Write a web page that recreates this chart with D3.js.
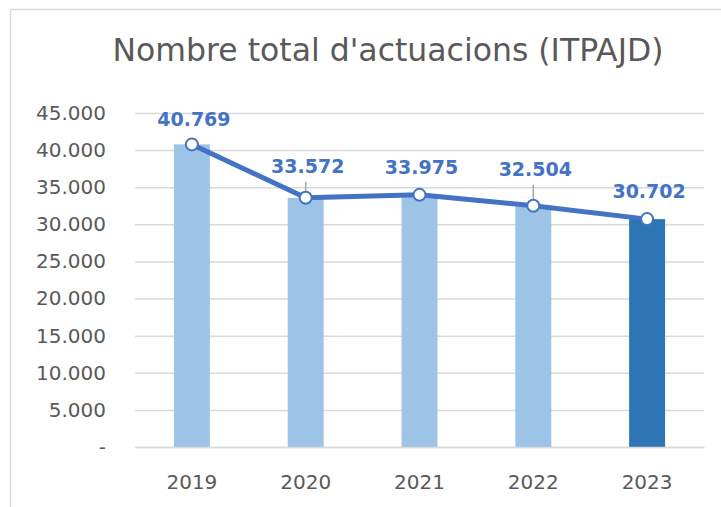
<!DOCTYPE html>
<html>
<head>
<meta charset="utf-8">
<script src="https://cdn.jsdelivr.net/npm/d3@7"></script>
<style>
  html, body { margin: 0; padding: 0; background: #fff; }
  svg { display: block; }
</style>
</head>
<body>
<div id="chart"></div>
<script>
// data
var years = ['2019', '2020', '2021', '2022', '2023'];
var actuacions = [40769, 33572, 33975, 32504, 30702];
var yTicks = [0, 5000, 10000, 15000, 20000, 25000, 30000, 35000, 40000, 45000];
var chartTitle = "Nombre total d'actuacions (ITPAJD)";

(function() {
  var width = 721, height = 507;
  var left = 135, right = 704, top = 113, bottom = 447;
  var blue = '#4472C4', grey = '#595959', gridColor = '#D9D9D9';
  var font = 'DejaVu Sans, sans-serif';
  // how far each label sits above its point (the original was nudged by hand)
  var labelLift = [18, 25, 21, 30, 21];

  var fmt = function(v) {
    return v === 0 ? '-' : d3.format(',')(v).replace(/,/g, '.');
  };

  var points = actuacions.map(function(v, i) {
    return { year: years[i], value: v, lift: labelLift[i], last: i === years.length - 1 };
  });

  var x = d3.scaleBand().domain(years).range([left, right]).paddingInner(0.684).paddingOuter(0.342);
  var y = d3.scaleLinear().domain([0, 45000]).range([bottom, top]);
  var cx = function(d) { return x(d.year) + x.bandwidth() / 2; };
  var cy = function(d) { return y(d.value); };

  var svg = d3.select('#chart').append('svg').attr('width', width).attr('height', height);

  // chart frame
  svg.append('path').attr('d', 'M10.5,' + height + 'V9.5H' + width)
    .attr('fill', 'none').attr('stroke', gridColor).attr('stroke-width', 1.5);

  svg.append('text').attr('x', 388).attr('y', 61).attr('text-anchor', 'middle')
    .attr('font-family', font).attr('font-size', 31.5).attr('fill', grey).text(chartTitle);

  // gridlines + y labels
  var yAxis = svg.append('g').attr('transform', 'translate(' + left + ',0)')
    .call(d3.axisLeft(y).tickValues(yTicks).tickSize(-(right - left)).tickPadding(29).tickFormat(fmt));
  yAxis.select('.domain').remove();
  yAxis.selectAll('.tick line').attr('stroke', gridColor).attr('stroke-width', 1.5);
  yAxis.selectAll('.tick text').attr('font-family', font).attr('font-size', 20).attr('fill', grey);

  // bars
  svg.append('g').selectAll('rect').data(points).enter().append('rect')
    .attr('x', function(d) { return x(d.year); })
    .attr('width', x.bandwidth())
    .attr('y', cy)
    .attr('height', function(d) { return y(0) - y(d.value); })
    .attr('fill', function(d) { return d.last ? '#2E75B6' : '#9DC3E6'; });

  // x axis
  var xAxis = svg.append('g').attr('transform', 'translate(0,' + bottom + ')')
    .call(d3.axisBottom(x).tickSize(0).tickPadding(28));
  xAxis.select('.domain').attr('stroke', gridColor).attr('stroke-width', 1.5);
  xAxis.selectAll('.tick text').attr('font-family', font).attr('font-size', 20).attr('fill', grey);

  // leader lines for labels pushed further away
  svg.append('g').selectAll('line')
    .data(points.filter(function(d) { return d.lift > 24; }))
    .enter().append('line')
    .attr('x1', cx).attr('x2', cx)
    .attr('y1', function(d) { return cy(d) - d.lift + 9; })
    .attr('y2', function(d) { return cy(d) - 3; })
    .attr('stroke', '#A6A6A6').attr('stroke-width', 1.5);

  // line + markers
  var line = d3.line().x(cx).y(cy);
  svg.append('path').datum(points).attr('d', line)
    .attr('fill', 'none').attr('stroke', blue).attr('stroke-width', 5).attr('stroke-linejoin', 'round');
  svg.append('g').selectAll('circle').data(points).enter().append('circle')
    .attr('cx', cx).attr('cy', cy).attr('r', 6)
    .attr('fill', '#fff').attr('stroke', blue).attr('stroke-width', 2);

  // value labels
  svg.append('g').selectAll('text').data(points).enter().append('text')
    .attr('x', function(d) { return cx(d) + 2; })
    .attr('y', function(d) { return cy(d) - d.lift; })
    .attr('text-anchor', 'middle').attr('font-family', font).attr('font-weight', 'bold')
    .attr('font-size', 19).attr('fill', blue)
    .text(function(d) { return fmt(d.value); });
})();
</script>
</body>
</html>
